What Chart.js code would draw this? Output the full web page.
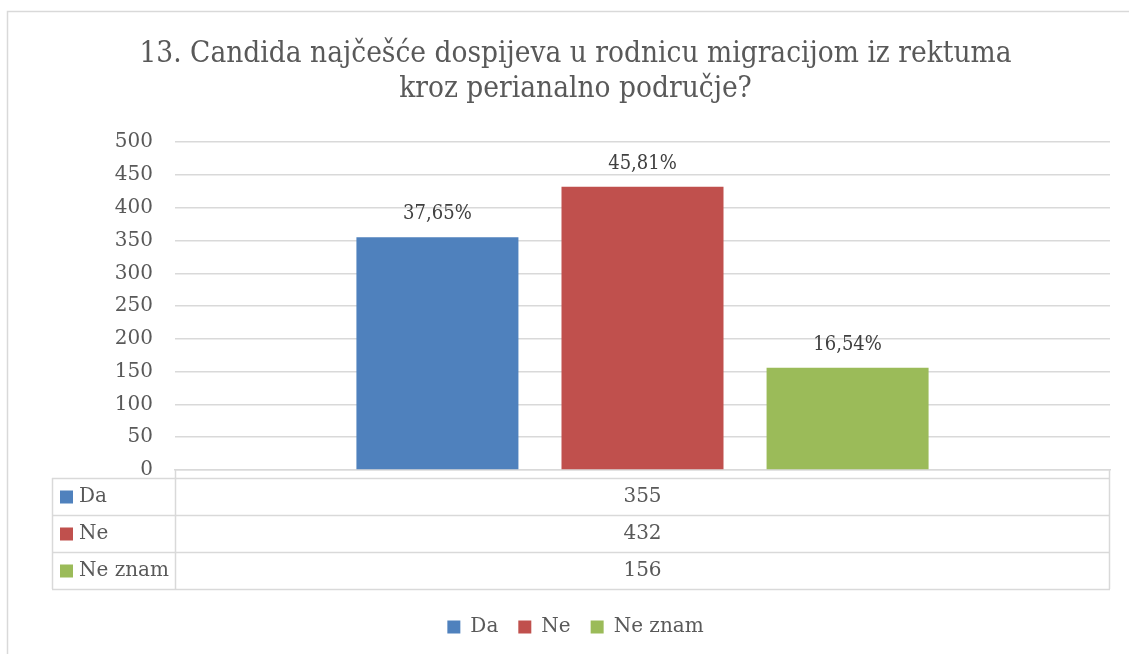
<!DOCTYPE html>
<html><head><meta charset="utf-8">
<script src="https://cdn.jsdelivr.net/npm/chart.js@4"></script>
<style>html,body{margin:0;padding:0;background:#fff}</style>
</head><body>
<canvas id="c" width="1129" height="654" style="display:block;width:1129px;height:654px"></canvas>
<script>
const categories = [''];
const seriesNames = ['Da', 'Ne', 'Ne znam'];
const seriesValues = [355, 432, 156];
const seriesColors = ['#4F81BD', '#C0504D', '#9BBB59'];
const yTickMin = 0, yTickMax = 500, yTickStep = 50;
const titleLines = ['13. Candida najčešće dospijeva u rodnicu migracijom iz rektuma', 'kroz perianalno područje?'];

const total = seriesValues.reduce((a, b) => a + b, 0);
const pctLabels = seriesValues.map(v => (v / total * 100).toFixed(2).replace('.', ',') + '%');

const SERIF = "'DejaVu Serif', 'Liberation Serif', serif";
const GRID = '#D9D9D9';
const TXT = '#595959';
const TITLE_SQUEEZE = 0.885;

const frame = {
  id: 'frame',
  beforeDraw(chart) {
    const ctx = chart.ctx;
    ctx.save();
    ctx.fillStyle = '#fff';
    ctx.fillRect(0, 0, chart.width, chart.height);
    ctx.strokeStyle = GRID;
    ctx.lineWidth = 1.5;
    ctx.strokeRect(7.5, 11.5, chart.width + 20, chart.height + 20);
    ctx.restore();
  },
  afterInit(chart) {
    const tb = chart.titleBlock;
    if (!tb) return;
    const orig = tb.draw;
    tb.draw = function () {
      const ctx = chart.ctx;
      const cx = (this.left + this.right) / 2;
      ctx.save();
      ctx.translate(cx, 0);
      ctx.scale(TITLE_SQUEEZE, 1);
      ctx.translate(-cx, 0);
      orig.apply(this, arguments);
      ctx.restore();
    };
  }
};

const dataLabels = {
  id: 'dataLabels',
  afterDatasetsDraw(chart) {
    const ctx = chart.ctx;
    chart.data.datasets.forEach((ds, i) => {
      const el = chart.getDatasetMeta(i).data[0];
      ctx.save();
      ctx.font = "20px " + SERIF;
      ctx.fillStyle = '#404040';
      ctx.textAlign = 'center';
      ctx.textBaseline = 'middle';
      ctx.translate(el.x, el.y - 23);
      ctx.scale(0.9, 1);
      ctx.fillText(pctLabels[i], 0, 0);
      ctx.restore();
    });
  }
};

const dataTable = {
  id: 'dataTable',
  afterDraw(chart) {
    const ctx = chart.ctx;
    const ca = chart.chartArea;
    const xs = chart.scales.x;
    const top = ca.bottom + 8;
    const rowH = 37;
    const leftX = 52;
    const bottom = top + rowH * seriesNames.length;
    ctx.save();
    ctx.strokeStyle = GRID;
    ctx.lineWidth = 1.5;
    ctx.beginPath();
    for (let r = 0; r <= seriesNames.length; r++) {
      const y = Math.round(top + r * rowH) + 0.5;
      ctx.moveTo(leftX, y); ctx.lineTo(ca.right, y);
    }
    ctx.moveTo(leftX + 0.5, top); ctx.lineTo(leftX + 0.5, bottom);
    ctx.moveTo(ca.left + 0.5, ca.bottom); ctx.lineTo(ca.left + 0.5, bottom);
    ctx.moveTo(ca.right - 0.5, ca.bottom); ctx.lineTo(ca.right - 0.5, bottom);
    ctx.stroke();
    ctx.font = "20px " + SERIF;
    ctx.textBaseline = 'middle';
    const cx = xs.getPixelForValue(0);
    seriesNames.forEach((n, r) => {
      const cy = top + r * rowH + rowH / 2;
      ctx.fillStyle = seriesColors[r];
      ctx.fillRect(60, cy - 6, 13, 13);
      ctx.fillStyle = TXT;
      ctx.textAlign = 'left';
      ctx.fillText(n, 79, cy);
      ctx.textAlign = 'center';
      ctx.fillText(String(seriesValues[r]), cx, cy);
    });
    ctx.restore();
  }
};

new Chart(document.getElementById('c'), {
  type: 'bar',
  data: {
    labels: categories,
    datasets: seriesNames.map((n, i) => ({
      label: n,
      data: [seriesValues[i]],
      backgroundColor: seriesColors[i],
      borderWidth: 0,
      categoryPercentage: 0.658,
      barPercentage: 0.79
    }))
  },
  options: {
    responsive: false,
    devicePixelRatio: 1,
    animation: false,
    layout: { padding: { left: 22, right: 0, top: 0, bottom: 7 } },
    plugins: {
      title: {
        display: true,
        text: titleLines,
        color: TXT,
        font: { family: SERIF, size: 30, weight: 'normal', lineHeight: 1.17 },
        padding: { top: 37, bottom: 35 }
      },
      legend: {
        display: true,
        position: 'bottom',
        labels: {
          color: TXT,
          font: { family: SERIF, size: 20 },
          boxWidth: 13, boxHeight: 13,
          padding: 20
        }
      },
      tooltip: { enabled: false }
    },
    scales: {
      x: {
        grid: { display: false },
        border: { display: true, color: GRID, width: 1.5 },
        ticks: { display: false },
        afterFit(s) { s.height = 127; }
      },
      y: {
        min: yTickMin, max: yTickMax,
        ticks: { stepSize: yTickStep, color: TXT, font: { family: SERIF, size: 20 }, padding: 22 },
        grid: { color: GRID, lineWidth: 1.5, drawTicks: false },
        border: { display: false },
        afterFit(s) { s.width = 153; }
      },
      yr: {
        position: 'right',
        display: true,
        min: yTickMin, max: yTickMax,
        ticks: { display: false },
        grid: { display: false, drawTicks: false },
        border: { display: false },
        afterFit(s) { s.width = 19; }
      }
    }
  },
  plugins: [frame, dataLabels, dataTable]
});
</script>
</body></html>
